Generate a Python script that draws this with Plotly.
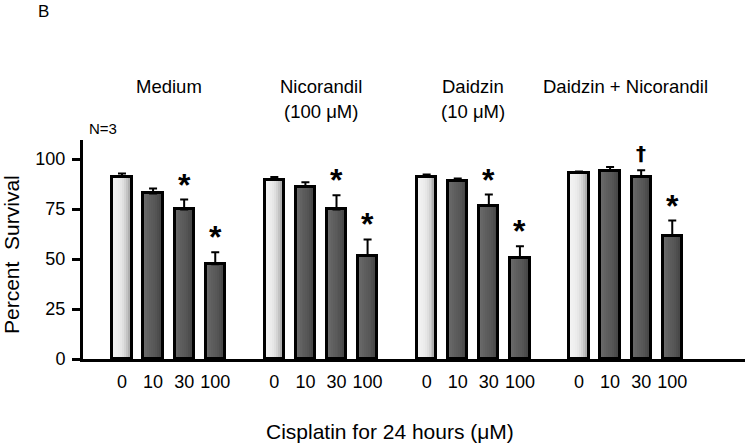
import plotly.graph_objects as go

# ---- data ----
groups = ["Medium", "Nicorandil", "Daidzin", "Daidzin + Nicorandil"]
group_sub = ["", "(100 μM)", "(10 μM)", ""]
doses = ["0", "10", "30", "100"]
survival = [
    [91.2, 82.8, 74.8, 47.4],
    [89.5, 86.2, 74.8, 51.6],
    [91.2, 89.2, 76.7, 50.7],
    [93.2, 94.2, 91.2, 61.6],
]
sem = [
    [1.5, 2.4, 4.9, 6.0],
    [1.5, 2.2, 7.1, 8.2],
    [1.0, 1.0, 5.5, 5.7],
    [0.5, 1.8, 3.2, 7.6],
]
marks = [
    ["", "", "*", "*"],
    ["", "", "*", "*"],
    ["", "", "*", "*"],
    ["", "", "†", "*"],
]
y_ticks = [0, 25, 50, 75, 100]

# ---- layout helpers ----
GROUP_STEP = 4.9
BAR_W = 0.62
FONT = "Liberation Sans, Arial, sans-serif"

xs, ys, es, labels, is_ctrl, mk = [], [], [], [], [], []
for g in range(len(groups)):
    for i in range(len(doses)):
        xs.append(g * GROUP_STEP + i)
        ys.append(survival[g][i])
        es.append(sem[g][i])
        labels.append(doses[i])
        is_ctrl.append(i == 0)
        mk.append(marks[g][i])

light = ["#f3f3f3", "#f1f1f1", "#efefef", "#ececec", "#e7e7e7",
         "#dfdfdf", "#d3d3d3", "#c3c3c3", "#afafaf", "#999999"]
dark = ["#6a6a6a", "#666666", "#626262", "#5e5e5e", "#5b5b5b",
        "#585858", "#545454", "#4e4e4e", "#484848", "#414141"]
N = len(light)

fig = go.Figure()
sw = BAR_W / N
for k in range(N):
    cols = [light[k] if c else dark[k] for c in is_ctrl]
    fig.add_trace(go.Bar(
        x=xs, y=ys, offset=-BAR_W / 2 + k * sw, width=sw * 1.15,
        marker=dict(color=cols, line=dict(width=0)),
        hoverinfo="skip", showlegend=False))

# outline + error bars
fig.add_trace(go.Bar(
    x=xs, y=ys, width=BAR_W,
    marker=dict(color="rgba(0,0,0,0)", line=dict(color="black", width=3)),
    error_y=dict(type="data", symmetric=False, array=es,
                 arrayminus=[0] * len(es), color="black", thickness=2, width=4),
    showlegend=False))

annotations = []
for x, y, e, m in zip(xs, ys, es, mk):
    if m == "*":
        annotations.append(dict(
            x=x, y=y + e, xref="x", yref="y", text=m, showarrow=False,
            xanchor="center", yanchor="bottom", yshift=-5,
            font=dict(family=FONT, size=32, color="black", weight="bold")))
    elif m:
        annotations.append(dict(
            x=x, y=y + e, xref="x", yref="y", text=m, showarrow=False,
            xanchor="center", yanchor="bottom", yshift=3,
            font=dict(family="DejaVu Sans", size=20, color="black", weight="bold")))

for g, (name, sub) in enumerate(zip(groups, group_sub)):
    cx = g * GROUP_STEP + (len(doses) - 1) / 2
    annotations.append(dict(x=cx, y=(359 - 86.5) / 219, xref="x", yref="paper",
                            text=name, showarrow=False, xanchor="center",
                            yanchor="middle",
                            font=dict(family=FONT, size=18.5, color="black")))
    if sub:
        annotations.append(dict(x=cx, y=(359 - 111) / 219, xref="x", yref="paper",
                                text=sub, showarrow=False, xanchor="center",
                                yanchor="middle",
                                font=dict(family=FONT, size=18.5, color="black")))

annotations += [
    dict(x=(103 - 83) / 662, y=(359 - 128) / 219, xref="paper", yref="paper",
         text="N=3", showarrow=False, xanchor="center", yanchor="middle",
         font=dict(family=FONT, size=15, color="black")),
    dict(x=(43 - 83) / 662, y=(359 - 11) / 219, xref="paper", yref="paper",
         text="B", showarrow=False, xanchor="center", yanchor="middle",
         font=dict(family=FONT, size=17, color="black")),
    dict(x=(390 - 83) / 662, y=(359 - 431) / 219, xref="paper", yref="paper",
         text="Cisplatin for 24 hours (μM)", showarrow=False, xanchor="center",
         yanchor="middle", font=dict(family=FONT, size=21, color="black")),
    dict(x=(11 - 83) / 662, y=(359 - 255) / 219, xref="paper", yref="paper",
         text="Percent\u00a0\u00a0Survival", showarrow=False, textangle=-90,
         xanchor="center", yanchor="middle",
         font=dict(family=FONT, size=21, color="black")),
]

fig.update_layout(
    width=750, height=446,
    margin=dict(l=83, r=5, t=140, b=87),
    paper_bgcolor="white", plot_bgcolor="white",
    barmode="overlay", bargap=0,
    font=dict(family=FONT, color="black"),
    annotations=annotations,
    xaxis=dict(range=[-1.254, 20.04], showline=True, linecolor="black",
               linewidth=3, showgrid=False, zeroline=False, ticks="",
               tickvals=xs, ticktext=labels, tickfont=dict(size=18),
               ticklabelstandoff=4, fixedrange=True),
    yaxis=dict(range=[0, 109.5], showline=True, linecolor="black", linewidth=3,
               showgrid=False, zeroline=False, ticks="outside", ticklen=8,
               tickwidth=3, tickcolor="black", tickvals=y_ticks,
               tickfont=dict(size=18), ticklabelstandoff=3, fixedrange=True),
)

fig.write_html("out.html", config={"displayModeBar": False},
               post_script="document.body.style.margin='0';document.body.style.overflow='hidden';")
